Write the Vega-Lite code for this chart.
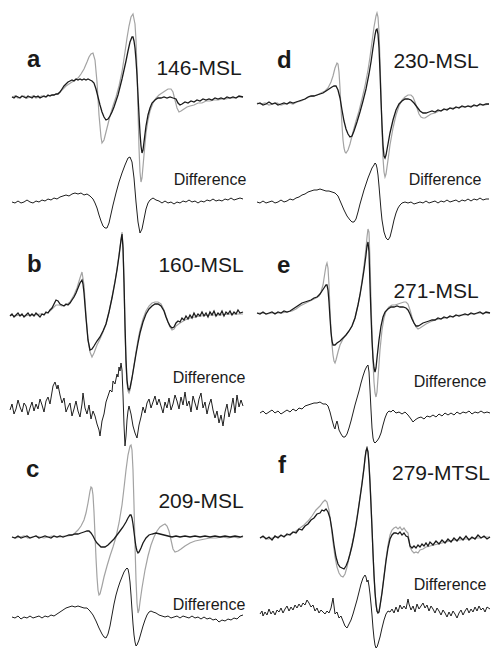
{
"$schema":"https://vega.github.io/schema/vega-lite/v6.json",
"padding":0,
"background":"white",
"spacing":1,
"config":{"view":{"stroke":null},"text":{"font":"Liberation Sans","color":"#1a1a1a","baseline":"alphabetic"}},
"datasets":{
"LT":[
{"k":"l","x":27,"y":-67,"s":"a"},{"k":"n","x":199,"y":-75,"s":"146-MSL"},{"k":"d","x":210,"y":-185,"s":"Difference"},
{"k":"l","x":27,"y":-272,"s":"b"},{"k":"n","x":201,"y":-272,"s":"160-MSL"},{"k":"d","x":209,"y":-383,"s":"Difference"},
{"k":"l","x":26,"y":-477,"s":"c"},{"k":"n","x":201,"y":-508,"s":"209-MSL"},{"k":"d","x":209,"y":-610,"s":"Difference"}
],
"RT":[
{"k":"l","x":27,"y":-68,"s":"d"},{"k":"n","x":186,"y":-68,"s":"230-MSL"},{"k":"d","x":195,"y":-185,"s":"Difference"},
{"k":"l","x":27,"y":-273,"s":"e"},{"k":"n","x":186,"y":-298,"s":"271-MSL"},{"k":"d","x":200,"y":-387,"s":"Difference"},
{"k":"l","x":28,"y":-473,"s":"f"},{"k":"n","x":191,"y":-480,"s":"279-MTSL"},{"k":"d","x":200,"y":-590,"s":"Difference"}
],
"L":[
{"t":"ag","x":12,"y":-97},{"t":"ag","x":15,"y":-96},{"t":"ag","x":18,"y":-98},{"t":"ag","x":21,"y":-97},{"t":"ag","x":24,"y":-96},{"t":"ag","x":27,"y":-98},{"t":"ag","x":30,"y":-97},{"t":"ag","x":33,"y":-96},{"t":"ag","x":36,"y":-98},{"t":"ag","x":39,"y":-97},{"t":"ag","x":42,"y":-96},{"t":"ag","x":45,"y":-97},{"t":"ag","x":48,"y":-96},{"t":"ag","x":51,"y":-95},{"t":"ag","x":54,"y":-95},{"t":"ag","x":57,"y":-94},{"t":"ag","x":60,"y":-92},{"t":"ag","x":63,"y":-89},{"t":"ag","x":66,"y":-86},{"t":"ag","x":69,"y":-84},{"t":"ag","x":72,"y":-82},{"t":"ag","x":75,"y":-80},{"t":"ag","x":78,"y":-78},{"t":"ag","x":81,"y":-74},{"t":"ag","x":84,"y":-69},{"t":"ag","x":87,"y":-62},{"t":"ag","x":89,"y":-57},{"t":"ag","x":91,"y":-54},{"t":"ag","x":93,"y":-53},{"t":"ag","x":95,"y":-60},{"t":"ag","x":97,"y":-82},{"t":"ag","x":99,"y":-115},{"t":"ag","x":101,"y":-137},{"t":"ag","x":102,"y":-143},{"t":"ag","x":104,"y":-140},{"t":"ag","x":106,"y":-132},{"t":"ag","x":108,"y":-124},{"t":"ag","x":110,"y":-116},{"t":"ag","x":113,"y":-106},{"t":"ag","x":116,"y":-97},{"t":"ag","x":119,"y":-86},{"t":"ag","x":122,"y":-72},{"t":"ag","x":125,"y":-52},{"t":"ag","x":127,"y":-38},{"t":"ag","x":129,"y":-26},{"t":"ag","x":131,"y":-17},{"t":"ag","x":133,"y":-14},{"t":"ag","x":135,"y":-24},{"t":"ag","x":136,"y":-40},{"t":"ag","x":137,"y":-70},{"t":"ag","x":138,"y":-110},{"t":"ag","x":139,"y":-148},{"t":"ag","x":140,"y":-172},{"t":"ag","x":141,"y":-182},{"t":"ag","x":142,"y":-178},{"t":"ag","x":144,"y":-155},{"t":"ag","x":146,"y":-133},{"t":"ag","x":148,"y":-120},{"t":"ag","x":150,"y":-111},{"t":"ag","x":153,"y":-103},{"t":"ag","x":156,"y":-98},{"t":"ag","x":159,"y":-95},{"t":"ag","x":162,"y":-93},{"t":"ag","x":165,"y":-91},{"t":"ag","x":168,"y":-89},{"t":"ag","x":171,"y":-89},{"t":"ag","x":173,"y":-92},{"t":"ag","x":175,"y":-100},{"t":"ag","x":177,"y":-108},{"t":"ag","x":179,"y":-112},{"t":"ag","x":181,"y":-111},{"t":"ag","x":184,"y":-109},{"t":"ag","x":187,"y":-107},{"t":"ag","x":190,"y":-106},{"t":"ag","x":194,"y":-105},{"t":"ag","x":198,"y":-103},{"t":"ag","x":202,"y":-103},{"t":"ag","x":206,"y":-101},{"t":"ag","x":210,"y":-101},{"t":"ag","x":214,"y":-100},{"t":"ag","x":218,"y":-100},{"t":"ag","x":222,"y":-99},{"t":"ag","x":226,"y":-99},{"t":"ag","x":230,"y":-98},{"t":"ag","x":234,"y":-98},{"t":"ag","x":238,"y":-97},{"t":"ag","x":243,"y":-97},
{"t":"ab","x":12,"y":-97},{"t":"ab","x":14,"y":-98},{"t":"ab","x":16,"y":-96},{"t":"ab","x":18,"y":-97},{"t":"ab","x":20,"y":-98},{"t":"ab","x":22,"y":-96},{"t":"ab","x":24,"y":-97},{"t":"ab","x":26,"y":-98},{"t":"ab","x":28,"y":-96},{"t":"ab","x":30,"y":-97},{"t":"ab","x":32,"y":-98},{"t":"ab","x":34,"y":-96},{"t":"ab","x":36,"y":-97},{"t":"ab","x":38,"y":-96},{"t":"ab","x":40,"y":-98},{"t":"ab","x":42,"y":-97},{"t":"ab","x":44,"y":-96},{"t":"ab","x":46,"y":-97},{"t":"ab","x":48,"y":-95},{"t":"ab","x":50,"y":-96},{"t":"ab","x":52,"y":-95},{"t":"ab","x":54,"y":-95},{"t":"ab","x":56,"y":-94},{"t":"ab","x":58,"y":-94},{"t":"ab","x":60,"y":-92},{"t":"ab","x":62,"y":-89},{"t":"ab","x":64,"y":-86},{"t":"ab","x":66,"y":-84},{"t":"ab","x":68,"y":-82},{"t":"ab","x":70,"y":-81},{"t":"ab","x":72,"y":-80},{"t":"ab","x":74,"y":-81},{"t":"ab","x":76,"y":-79},{"t":"ab","x":78,"y":-80},{"t":"ab","x":80,"y":-79},{"t":"ab","x":82,"y":-80},{"t":"ab","x":84,"y":-79},{"t":"ab","x":86,"y":-80},{"t":"ab","x":88,"y":-79},{"t":"ab","x":90,"y":-80},{"t":"ab","x":92,"y":-81},{"t":"ab","x":94,"y":-83},{"t":"ab","x":96,"y":-89},{"t":"ab","x":98,"y":-97},{"t":"ab","x":100,"y":-105},{"t":"ab","x":102,"y":-112},{"t":"ab","x":104,"y":-117},{"t":"ab","x":106,"y":-120},{"t":"ab","x":108,"y":-119},{"t":"ab","x":110,"y":-116},{"t":"ab","x":112,"y":-112},{"t":"ab","x":114,"y":-107},{"t":"ab","x":116,"y":-101},{"t":"ab","x":118,"y":-95},{"t":"ab","x":120,"y":-87},{"t":"ab","x":122,"y":-79},{"t":"ab","x":124,"y":-70},{"t":"ab","x":126,"y":-61},{"t":"ab","x":128,"y":-51},{"t":"ab","x":130,"y":-42},{"t":"ab","x":132,"y":-37},{"t":"ab","x":133,"y":-37},{"t":"ab","x":134,"y":-41},{"t":"ab","x":135,"y":-48},{"t":"ab","x":136,"y":-60},{"t":"ab","x":137,"y":-75},{"t":"ab","x":138,"y":-95},{"t":"ab","x":139,"y":-115},{"t":"ab","x":140,"y":-133},{"t":"ab","x":141,"y":-146},{"t":"ab","x":142,"y":-153},{"t":"ab","x":143,"y":-150},{"t":"ab","x":144,"y":-142},{"t":"ab","x":146,"y":-126},{"t":"ab","x":148,"y":-115},{"t":"ab","x":150,"y":-108},{"t":"ab","x":152,"y":-103},{"t":"ab","x":155,"y":-100},{"t":"ab","x":158,"y":-98},{"t":"ab","x":161,"y":-98},{"t":"ab","x":164,"y":-97},{"t":"ab","x":167,"y":-98},{"t":"ab","x":170,"y":-97},{"t":"ab","x":173,"y":-98},{"t":"ab","x":176,"y":-99},{"t":"ab","x":178,"y":-103},{"t":"ab","x":180,"y":-105},{"t":"ab","x":182,"y":-104},{"t":"ab","x":185,"y":-102},{"t":"ab","x":188,"y":-103},{"t":"ab","x":191,"y":-101},{"t":"ab","x":194,"y":-102},{"t":"ab","x":197,"y":-100},{"t":"ab","x":200,"y":-101},{"t":"ab","x":203,"y":-99},{"t":"ab","x":206,"y":-100},{"t":"ab","x":209,"y":-99},{"t":"ab","x":212,"y":-100},{"t":"ab","x":215,"y":-98},{"t":"ab","x":218,"y":-99},{"t":"ab","x":221,"y":-98},{"t":"ab","x":224,"y":-99},{"t":"ab","x":227,"y":-97},{"t":"ab","x":230,"y":-98},{"t":"ab","x":233,"y":-97},{"t":"ab","x":236,"y":-98},{"t":"ab","x":239,"y":-96},{"t":"ab","x":243,"y":-97},
{"t":"ad","x":12,"y":-202},{"t":"ad","x":15,"y":-203},{"t":"ad","x":18,"y":-201},{"t":"ad","x":21,"y":-203},{"t":"ad","x":24,"y":-202},{"t":"ad","x":27,"y":-200},{"t":"ad","x":30,"y":-202},{"t":"ad","x":33,"y":-203},{"t":"ad","x":36,"y":-201},{"t":"ad","x":39,"y":-202},{"t":"ad","x":42,"y":-200},{"t":"ad","x":45,"y":-201},{"t":"ad","x":48,"y":-199},{"t":"ad","x":51,"y":-200},{"t":"ad","x":54,"y":-198},{"t":"ad","x":57,"y":-199},{"t":"ad","x":60,"y":-197},{"t":"ad","x":63,"y":-196},{"t":"ad","x":66,"y":-195},{"t":"ad","x":69,"y":-196},{"t":"ad","x":72,"y":-194},{"t":"ad","x":75,"y":-193},{"t":"ad","x":78,"y":-194},{"t":"ad","x":81,"y":-193},{"t":"ad","x":84,"y":-195},{"t":"ad","x":87,"y":-194},{"t":"ad","x":90,"y":-196},{"t":"ad","x":93,"y":-199},{"t":"ad","x":95,"y":-203},{"t":"ad","x":97,"y":-208},{"t":"ad","x":99,"y":-215},{"t":"ad","x":101,"y":-221},{"t":"ad","x":103,"y":-226},{"t":"ad","x":105,"y":-228},{"t":"ad","x":107,"y":-228},{"t":"ad","x":109,"y":-223},{"t":"ad","x":111,"y":-214},{"t":"ad","x":113,"y":-205},{"t":"ad","x":116,"y":-193},{"t":"ad","x":119,"y":-182},{"t":"ad","x":122,"y":-173},{"t":"ad","x":125,"y":-165},{"t":"ad","x":128,"y":-158},{"t":"ad","x":130,"y":-157},{"t":"ad","x":132,"y":-162},{"t":"ad","x":134,"y":-178},{"t":"ad","x":136,"y":-202},{"t":"ad","x":138,"y":-222},{"t":"ad","x":140,"y":-233},{"t":"ad","x":142,"y":-229},{"t":"ad","x":144,"y":-219},{"t":"ad","x":146,"y":-209},{"t":"ad","x":148,"y":-203},{"t":"ad","x":150,"y":-200},{"t":"ad","x":153,"y":-198},{"t":"ad","x":156,"y":-200},{"t":"ad","x":159,"y":-201},{"t":"ad","x":162,"y":-203},{"t":"ad","x":165,"y":-201},{"t":"ad","x":168,"y":-203},{"t":"ad","x":171,"y":-202},{"t":"ad","x":174,"y":-204},{"t":"ad","x":177,"y":-202},{"t":"ad","x":180,"y":-203},{"t":"ad","x":183,"y":-201},{"t":"ad","x":186,"y":-202},{"t":"ad","x":189,"y":-200},{"t":"ad","x":192,"y":-202},{"t":"ad","x":195,"y":-201},{"t":"ad","x":198,"y":-203},{"t":"ad","x":201,"y":-201},{"t":"ad","x":204,"y":-202},{"t":"ad","x":207,"y":-200},{"t":"ad","x":210,"y":-201},{"t":"ad","x":213,"y":-199},{"t":"ad","x":216,"y":-201},{"t":"ad","x":219,"y":-200},{"t":"ad","x":222,"y":-201},{"t":"ad","x":225,"y":-199},{"t":"ad","x":228,"y":-200},{"t":"ad","x":231,"y":-198},{"t":"ad","x":234,"y":-200},{"t":"ad","x":237,"y":-199},{"t":"ad","x":240,"y":-198},{"t":"ad","x":243,"y":-199},
{"t":"bg","x":10,"y":-315},{"t":"bg","x":15,"y":-316},{"t":"bg","x":20,"y":-315},{"t":"bg","x":25,"y":-316},{"t":"bg","x":30,"y":-315},{"t":"bg","x":35,"y":-315},{"t":"bg","x":40,"y":-314},{"t":"bg","x":45,"y":-314},{"t":"bg","x":50,"y":-311},{"t":"bg","x":53,"y":-308},{"t":"bg","x":56,"y":-305},{"t":"bg","x":59,"y":-305},{"t":"bg","x":62,"y":-306},{"t":"bg","x":66,"y":-305},{"t":"bg","x":70,"y":-302},{"t":"bg","x":74,"y":-295},{"t":"bg","x":77,"y":-288},{"t":"bg","x":80,"y":-278},{"t":"bg","x":82,"y":-272},{"t":"bg","x":84,"y":-285},{"t":"bg","x":86,"y":-315},{"t":"bg","x":88,"y":-340},{"t":"bg","x":90,"y":-352},{"t":"bg","x":92,"y":-357},{"t":"bg","x":94,"y":-353},{"t":"bg","x":97,"y":-345},{"t":"bg","x":100,"y":-339},{"t":"bg","x":103,"y":-332},{"t":"bg","x":106,"y":-324},{"t":"bg","x":109,"y":-312},{"t":"bg","x":112,"y":-297},{"t":"bg","x":115,"y":-281},{"t":"bg","x":117,"y":-269},{"t":"bg","x":119,"y":-255},{"t":"bg","x":121,"y":-240},{"t":"bg","x":122,"y":-232},{"t":"bg","x":123,"y":-245},{"t":"bg","x":124,"y":-282},{"t":"bg","x":125,"y":-330},{"t":"bg","x":126,"y":-365},{"t":"bg","x":127,"y":-383},{"t":"bg","x":128,"y":-391},{"t":"bg","x":129,"y":-393},{"t":"bg","x":130,"y":-390},{"t":"bg","x":132,"y":-378},{"t":"bg","x":134,"y":-365},{"t":"bg","x":136,"y":-352},{"t":"bg","x":138,"y":-340},{"t":"bg","x":140,"y":-330},{"t":"bg","x":143,"y":-319},{"t":"bg","x":146,"y":-311},{"t":"bg","x":149,"y":-306},{"t":"bg","x":152,"y":-303},{"t":"bg","x":155,"y":-302},{"t":"bg","x":158,"y":-302},{"t":"bg","x":161,"y":-304},{"t":"bg","x":164,"y":-310},{"t":"bg","x":166,"y":-316},{"t":"bg","x":168,"y":-322},{"t":"bg","x":170,"y":-327},{"t":"bg","x":172,"y":-330},{"t":"bg","x":174,"y":-329},{"t":"bg","x":176,"y":-326},{"t":"bg","x":180,"y":-323},{"t":"bg","x":185,"y":-320},{"t":"bg","x":190,"y":-318},{"t":"bg","x":195,"y":-317},{"t":"bg","x":200,"y":-316},{"t":"bg","x":210,"y":-315},{"t":"bg","x":220,"y":-315},{"t":"bg","x":230,"y":-314},{"t":"bg","x":243,"y":-314},
{"t":"bb","x":10,"y":-316},{"t":"bb","x":12,"y":-314},{"t":"bb","x":14,"y":-317},{"t":"bb","x":16,"y":-315},{"t":"bb","x":18,"y":-313},{"t":"bb","x":20,"y":-316},{"t":"bb","x":22,"y":-314},{"t":"bb","x":24,"y":-317},{"t":"bb","x":26,"y":-315},{"t":"bb","x":28,"y":-313},{"t":"bb","x":30,"y":-316},{"t":"bb","x":32,"y":-314},{"t":"bb","x":34,"y":-316},{"t":"bb","x":36,"y":-313},{"t":"bb","x":38,"y":-315},{"t":"bb","x":40,"y":-317},{"t":"bb","x":42,"y":-314},{"t":"bb","x":44,"y":-315},{"t":"bb","x":46,"y":-312},{"t":"bb","x":48,"y":-313},{"t":"bb","x":50,"y":-310},{"t":"bb","x":52,"y":-308},{"t":"bb","x":54,"y":-304},{"t":"bb","x":56,"y":-300},{"t":"bb","x":58,"y":-301},{"t":"bb","x":60,"y":-304},{"t":"bb","x":62,"y":-305},{"t":"bb","x":64,"y":-306},{"t":"bb","x":66,"y":-304},{"t":"bb","x":68,"y":-305},{"t":"bb","x":70,"y":-303},{"t":"bb","x":72,"y":-300},{"t":"bb","x":74,"y":-297},{"t":"bb","x":76,"y":-293},{"t":"bb","x":78,"y":-288},{"t":"bb","x":80,"y":-283},{"t":"bb","x":82,"y":-280},{"t":"bb","x":83,"y":-284},{"t":"bb","x":84,"y":-293},{"t":"bb","x":86,"y":-318},{"t":"bb","x":88,"y":-340},{"t":"bb","x":90,"y":-350},{"t":"bb","x":92,"y":-349},{"t":"bb","x":94,"y":-346},{"t":"bb","x":97,"y":-341},{"t":"bb","x":100,"y":-337},{"t":"bb","x":103,"y":-331},{"t":"bb","x":106,"y":-324},{"t":"bb","x":109,"y":-312},{"t":"bb","x":112,"y":-298},{"t":"bb","x":115,"y":-282},{"t":"bb","x":117,"y":-270},{"t":"bb","x":119,"y":-256},{"t":"bb","x":120,"y":-248},{"t":"bb","x":121,"y":-240},{"t":"bb","x":122,"y":-234},{"t":"bb","x":123,"y":-248},{"t":"bb","x":124,"y":-282},{"t":"bb","x":125,"y":-325},{"t":"bb","x":126,"y":-360},{"t":"bb","x":127,"y":-380},{"t":"bb","x":128,"y":-388},{"t":"bb","x":129,"y":-390},{"t":"bb","x":130,"y":-388},{"t":"bb","x":132,"y":-378},{"t":"bb","x":134,"y":-366},{"t":"bb","x":136,"y":-354},{"t":"bb","x":138,"y":-343},{"t":"bb","x":140,"y":-333},{"t":"bb","x":143,"y":-322},{"t":"bb","x":146,"y":-314},{"t":"bb","x":149,"y":-309},{"t":"bb","x":152,"y":-306},{"t":"bb","x":155,"y":-304},{"t":"bb","x":158,"y":-304},{"t":"bb","x":161,"y":-306},{"t":"bb","x":164,"y":-311},{"t":"bb","x":166,"y":-317},{"t":"bb","x":168,"y":-322},{"t":"bb","x":170,"y":-326},{"t":"bb","x":172,"y":-328},{"t":"bb","x":174,"y":-327},{"t":"bb","x":176,"y":-323},{"t":"bb","x":178,"y":-321},{"t":"bb","x":180,"y":-322},{"t":"bb","x":182,"y":-318},{"t":"bb","x":184,"y":-320},{"t":"bb","x":186,"y":-316},{"t":"bb","x":188,"y":-319},{"t":"bb","x":190,"y":-315},{"t":"bb","x":192,"y":-318},{"t":"bb","x":194,"y":-313},{"t":"bb","x":196,"y":-317},{"t":"bb","x":198,"y":-314},{"t":"bb","x":200,"y":-316},{"t":"bb","x":202,"y":-312},{"t":"bb","x":204,"y":-316},{"t":"bb","x":206,"y":-313},{"t":"bb","x":208,"y":-317},{"t":"bb","x":210,"y":-312},{"t":"bb","x":212,"y":-315},{"t":"bb","x":214,"y":-311},{"t":"bb","x":216,"y":-316},{"t":"bb","x":218,"y":-313},{"t":"bb","x":220,"y":-315},{"t":"bb","x":222,"y":-311},{"t":"bb","x":224,"y":-316},{"t":"bb","x":226,"y":-312},{"t":"bb","x":228,"y":-314},{"t":"bb","x":230,"y":-311},{"t":"bb","x":232,"y":-315},{"t":"bb","x":234,"y":-312},{"t":"bb","x":236,"y":-314},{"t":"bb","x":238,"y":-310},{"t":"bb","x":240,"y":-313},{"t":"bb","x":243,"y":-312},
{"t":"bd","x":10,"y":-410},{"t":"bd","x":12,"y":-404},{"t":"bd","x":14,"y":-414},{"t":"bd","x":16,"y":-409},{"t":"bd","x":18,"y":-400},{"t":"bd","x":20,"y":-407},{"t":"bd","x":22,"y":-412},{"t":"bd","x":24,"y":-403},{"t":"bd","x":26,"y":-406},{"t":"bd","x":28,"y":-415},{"t":"bd","x":30,"y":-408},{"t":"bd","x":32,"y":-402},{"t":"bd","x":34,"y":-411},{"t":"bd","x":36,"y":-404},{"t":"bd","x":38,"y":-409},{"t":"bd","x":40,"y":-399},{"t":"bd","x":42,"y":-405},{"t":"bd","x":44,"y":-412},{"t":"bd","x":46,"y":-401},{"t":"bd","x":48,"y":-397},{"t":"bd","x":50,"y":-404},{"t":"bd","x":52,"y":-392},{"t":"bd","x":53,"y":-386},{"t":"bd","x":55,"y":-382},{"t":"bd","x":57,"y":-389},{"t":"bd","x":58,"y":-385},{"t":"bd","x":60,"y":-395},{"t":"bd","x":62,"y":-403},{"t":"bd","x":64,"y":-398},{"t":"bd","x":66,"y":-412},{"t":"bd","x":68,"y":-407},{"t":"bd","x":70,"y":-403},{"t":"bd","x":72,"y":-416},{"t":"bd","x":74,"y":-409},{"t":"bd","x":76,"y":-401},{"t":"bd","x":78,"y":-411},{"t":"bd","x":80,"y":-417},{"t":"bd","x":82,"y":-404},{"t":"bd","x":83,"y":-393},{"t":"bd","x":85,"y":-408},{"t":"bd","x":87,"y":-414},{"t":"bd","x":89,"y":-405},{"t":"bd","x":91,"y":-419},{"t":"bd","x":93,"y":-411},{"t":"bd","x":95,"y":-416},{"t":"bd","x":97,"y":-424},{"t":"bd","x":99,"y":-430},{"t":"bd","x":100,"y":-436},{"t":"bd","x":102,"y":-421},{"t":"bd","x":104,"y":-414},{"t":"bd","x":106,"y":-402},{"t":"bd","x":108,"y":-396},{"t":"bd","x":110,"y":-390},{"t":"bd","x":112,"y":-392},{"t":"bd","x":113,"y":-381},{"t":"bd","x":115,"y":-384},{"t":"bd","x":117,"y":-374},{"t":"bd","x":118,"y":-377},{"t":"bd","x":119,"y":-367},{"t":"bd","x":120,"y":-371},{"t":"bd","x":121,"y":-363},{"t":"bd","x":122,"y":-370},{"t":"bd","x":123,"y":-395},{"t":"bd","x":124,"y":-425},{"t":"bd","x":125,"y":-446},{"t":"bd","x":126,"y":-436},{"t":"bd","x":127,"y":-420},{"t":"bd","x":128,"y":-411},{"t":"bd","x":129,"y":-406},{"t":"bd","x":131,"y":-414},{"t":"bd","x":133,"y":-426},{"t":"bd","x":135,"y":-433},{"t":"bd","x":137,"y":-438},{"t":"bd","x":139,"y":-425},{"t":"bd","x":141,"y":-417},{"t":"bd","x":143,"y":-407},{"t":"bd","x":145,"y":-413},{"t":"bd","x":147,"y":-403},{"t":"bd","x":149,"y":-399},{"t":"bd","x":151,"y":-408},{"t":"bd","x":153,"y":-402},{"t":"bd","x":155,"y":-396},{"t":"bd","x":157,"y":-405},{"t":"bd","x":159,"y":-399},{"t":"bd","x":161,"y":-406},{"t":"bd","x":163,"y":-413},{"t":"bd","x":165,"y":-402},{"t":"bd","x":167,"y":-408},{"t":"bd","x":169,"y":-398},{"t":"bd","x":171,"y":-410},{"t":"bd","x":173,"y":-404},{"t":"bd","x":175,"y":-395},{"t":"bd","x":177,"y":-401},{"t":"bd","x":179,"y":-409},{"t":"bd","x":181,"y":-397},{"t":"bd","x":183,"y":-405},{"t":"bd","x":185,"y":-392},{"t":"bd","x":187,"y":-406},{"t":"bd","x":189,"y":-401},{"t":"bd","x":191,"y":-412},{"t":"bd","x":193,"y":-396},{"t":"bd","x":195,"y":-403},{"t":"bd","x":197,"y":-410},{"t":"bd","x":199,"y":-399},{"t":"bd","x":201,"y":-393},{"t":"bd","x":203,"y":-408},{"t":"bd","x":205,"y":-402},{"t":"bd","x":207,"y":-414},{"t":"bd","x":209,"y":-405},{"t":"bd","x":211,"y":-399},{"t":"bd","x":213,"y":-410},{"t":"bd","x":215,"y":-418},{"t":"bd","x":217,"y":-411},{"t":"bd","x":219,"y":-423},{"t":"bd","x":221,"y":-415},{"t":"bd","x":223,"y":-426},{"t":"bd","x":225,"y":-412},{"t":"bd","x":227,"y":-404},{"t":"bd","x":229,"y":-417},{"t":"bd","x":231,"y":-409},{"t":"bd","x":233,"y":-398},{"t":"bd","x":235,"y":-413},{"t":"bd","x":237,"y":-395},{"t":"bd","x":239,"y":-407},{"t":"bd","x":241,"y":-400},{"t":"bd","x":243,"y":-406},
{"t":"cg","x":12,"y":-537},{"t":"cg","x":16,"y":-538},{"t":"cg","x":20,"y":-537},{"t":"cg","x":24,"y":-536},{"t":"cg","x":28,"y":-538},{"t":"cg","x":32,"y":-537},{"t":"cg","x":36,"y":-536},{"t":"cg","x":40,"y":-537},{"t":"cg","x":44,"y":-538},{"t":"cg","x":48,"y":-537},{"t":"cg","x":52,"y":-536},{"t":"cg","x":56,"y":-537},{"t":"cg","x":60,"y":-537},{"t":"cg","x":64,"y":-536},{"t":"cg","x":68,"y":-536},{"t":"cg","x":72,"y":-535},{"t":"cg","x":75,"y":-533},{"t":"cg","x":78,"y":-530},{"t":"cg","x":81,"y":-526},{"t":"cg","x":84,"y":-520},{"t":"cg","x":86,"y":-513},{"t":"cg","x":88,"y":-503},{"t":"cg","x":90,"y":-491},{"t":"cg","x":91,"y":-487},{"t":"cg","x":92,"y":-488},{"t":"cg","x":93,"y":-495},{"t":"cg","x":94,"y":-512},{"t":"cg","x":95,"y":-535},{"t":"cg","x":96,"y":-558},{"t":"cg","x":97,"y":-577},{"t":"cg","x":98,"y":-590},{"t":"cg","x":99,"y":-595},{"t":"cg","x":100,"y":-594},{"t":"cg","x":102,"y":-586},{"t":"cg","x":104,"y":-577},{"t":"cg","x":107,"y":-566},{"t":"cg","x":110,"y":-556},{"t":"cg","x":113,"y":-547},{"t":"cg","x":116,"y":-537},{"t":"cg","x":119,"y":-523},{"t":"cg","x":122,"y":-505},{"t":"cg","x":124,"y":-488},{"t":"cg","x":126,"y":-470},{"t":"cg","x":128,"y":-455},{"t":"cg","x":130,"y":-446},{"t":"cg","x":131,"y":-445},{"t":"cg","x":132,"y":-450},{"t":"cg","x":133,"y":-470},{"t":"cg","x":134,"y":-505},{"t":"cg","x":135,"y":-545},{"t":"cg","x":136,"y":-580},{"t":"cg","x":137,"y":-603},{"t":"cg","x":138,"y":-613},{"t":"cg","x":139,"y":-610},{"t":"cg","x":140,"y":-602},{"t":"cg","x":142,"y":-588},{"t":"cg","x":145,"y":-570},{"t":"cg","x":148,"y":-556},{"t":"cg","x":151,"y":-545},{"t":"cg","x":154,"y":-537},{"t":"cg","x":157,"y":-531},{"t":"cg","x":160,"y":-527},{"t":"cg","x":163,"y":-525},{"t":"cg","x":165,"y":-524},{"t":"cg","x":167,"y":-526},{"t":"cg","x":169,"y":-531},{"t":"cg","x":171,"y":-540},{"t":"cg","x":173,"y":-549},{"t":"cg","x":175,"y":-552},{"t":"cg","x":178,"y":-551},{"t":"cg","x":181,"y":-549},{"t":"cg","x":185,"y":-546},{"t":"cg","x":190,"y":-543},{"t":"cg","x":195,"y":-541},{"t":"cg","x":200,"y":-540},{"t":"cg","x":205,"y":-539},{"t":"cg","x":210,"y":-538},{"t":"cg","x":216,"y":-538},{"t":"cg","x":222,"y":-537},{"t":"cg","x":228,"y":-538},{"t":"cg","x":234,"y":-537},{"t":"cg","x":238,"y":-538},{"t":"cg","x":243,"y":-537},
{"t":"cb","x":12,"y":-537},{"t":"cb","x":15,"y":-538},{"t":"cb","x":18,"y":-536},{"t":"cb","x":21,"y":-538},{"t":"cb","x":24,"y":-537},{"t":"cb","x":27,"y":-536},{"t":"cb","x":30,"y":-538},{"t":"cb","x":33,"y":-537},{"t":"cb","x":36,"y":-536},{"t":"cb","x":39,"y":-538},{"t":"cb","x":42,"y":-537},{"t":"cb","x":45,"y":-536},{"t":"cb","x":48,"y":-537},{"t":"cb","x":51,"y":-538},{"t":"cb","x":54,"y":-536},{"t":"cb","x":57,"y":-537},{"t":"cb","x":60,"y":-536},{"t":"cb","x":63,"y":-537},{"t":"cb","x":66,"y":-536},{"t":"cb","x":69,"y":-535},{"t":"cb","x":72,"y":-535},{"t":"cb","x":75,"y":-534},{"t":"cb","x":78,"y":-534},{"t":"cb","x":81,"y":-533},{"t":"cb","x":84,"y":-532},{"t":"cb","x":87,"y":-531},{"t":"cb","x":89,"y":-531},{"t":"cb","x":91,"y":-533},{"t":"cb","x":93,"y":-536},{"t":"cb","x":95,"y":-540},{"t":"cb","x":97,"y":-543},{"t":"cb","x":99,"y":-545},{"t":"cb","x":101,"y":-547},{"t":"cb","x":103,"y":-547},{"t":"cb","x":105,"y":-547},{"t":"cb","x":108,"y":-545},{"t":"cb","x":111,"y":-542},{"t":"cb","x":114,"y":-539},{"t":"cb","x":117,"y":-535},{"t":"cb","x":120,"y":-531},{"t":"cb","x":123,"y":-527},{"t":"cb","x":126,"y":-522},{"t":"cb","x":128,"y":-518},{"t":"cb","x":130,"y":-515},{"t":"cb","x":131,"y":-515},{"t":"cb","x":132,"y":-518},{"t":"cb","x":133,"y":-524},{"t":"cb","x":134,"y":-532},{"t":"cb","x":135,"y":-540},{"t":"cb","x":136,"y":-547},{"t":"cb","x":137,"y":-551},{"t":"cb","x":138,"y":-553},{"t":"cb","x":139,"y":-552},{"t":"cb","x":141,"y":-548},{"t":"cb","x":143,"y":-543},{"t":"cb","x":146,"y":-538},{"t":"cb","x":149,"y":-535},{"t":"cb","x":152,"y":-534},{"t":"cb","x":156,"y":-533},{"t":"cb","x":160,"y":-534},{"t":"cb","x":164,"y":-535},{"t":"cb","x":168,"y":-536},{"t":"cb","x":172,"y":-537},{"t":"cb","x":176,"y":-536},{"t":"cb","x":180,"y":-537},{"t":"cb","x":185,"y":-536},{"t":"cb","x":190,"y":-537},{"t":"cb","x":195,"y":-536},{"t":"cb","x":200,"y":-537},{"t":"cb","x":205,"y":-536},{"t":"cb","x":210,"y":-537},{"t":"cb","x":215,"y":-536},{"t":"cb","x":220,"y":-537},{"t":"cb","x":225,"y":-536},{"t":"cb","x":230,"y":-537},{"t":"cb","x":235,"y":-536},{"t":"cb","x":240,"y":-537},{"t":"cb","x":243,"y":-536},
{"t":"cd","x":12,"y":-617},{"t":"cd","x":15,"y":-618},{"t":"cd","x":18,"y":-616},{"t":"cd","x":21,"y":-619},{"t":"cd","x":24,"y":-617},{"t":"cd","x":27,"y":-618},{"t":"cd","x":30,"y":-616},{"t":"cd","x":33,"y":-618},{"t":"cd","x":36,"y":-617},{"t":"cd","x":39,"y":-616},{"t":"cd","x":42,"y":-618},{"t":"cd","x":45,"y":-616},{"t":"cd","x":48,"y":-617},{"t":"cd","x":51,"y":-615},{"t":"cd","x":54,"y":-616},{"t":"cd","x":57,"y":-614},{"t":"cd","x":60,"y":-612},{"t":"cd","x":63,"y":-610},{"t":"cd","x":66,"y":-608},{"t":"cd","x":69,"y":-607},{"t":"cd","x":72,"y":-606},{"t":"cd","x":75,"y":-607},{"t":"cd","x":78,"y":-606},{"t":"cd","x":81,"y":-607},{"t":"cd","x":84,"y":-608},{"t":"cd","x":87,"y":-608},{"t":"cd","x":90,"y":-611},{"t":"cd","x":93,"y":-615},{"t":"cd","x":96,"y":-621},{"t":"cd","x":99,"y":-628},{"t":"cd","x":102,"y":-634},{"t":"cd","x":104,"y":-637},{"t":"cd","x":106,"y":-638},{"t":"cd","x":108,"y":-634},{"t":"cd","x":110,"y":-626},{"t":"cd","x":112,"y":-615},{"t":"cd","x":114,"y":-604},{"t":"cd","x":116,"y":-595},{"t":"cd","x":118,"y":-588},{"t":"cd","x":120,"y":-582},{"t":"cd","x":122,"y":-577},{"t":"cd","x":124,"y":-572},{"t":"cd","x":126,"y":-569},{"t":"cd","x":127,"y":-568},{"t":"cd","x":128,"y":-569},{"t":"cd","x":129,"y":-574},{"t":"cd","x":130,"y":-582},{"t":"cd","x":131,"y":-595},{"t":"cd","x":132,"y":-610},{"t":"cd","x":133,"y":-624},{"t":"cd","x":134,"y":-635},{"t":"cd","x":135,"y":-642},{"t":"cd","x":136,"y":-646},{"t":"cd","x":137,"y":-645},{"t":"cd","x":139,"y":-640},{"t":"cd","x":141,"y":-633},{"t":"cd","x":143,"y":-626},{"t":"cd","x":145,"y":-620},{"t":"cd","x":147,"y":-615},{"t":"cd","x":149,"y":-612},{"t":"cd","x":151,"y":-611},{"t":"cd","x":153,"y":-612},{"t":"cd","x":156,"y":-613},{"t":"cd","x":159,"y":-615},{"t":"cd","x":162,"y":-616},{"t":"cd","x":165,"y":-617},{"t":"cd","x":168,"y":-616},{"t":"cd","x":171,"y":-618},{"t":"cd","x":174,"y":-617},{"t":"cd","x":177,"y":-616},{"t":"cd","x":180,"y":-618},{"t":"cd","x":183,"y":-616},{"t":"cd","x":186,"y":-617},{"t":"cd","x":189,"y":-618},{"t":"cd","x":192,"y":-616},{"t":"cd","x":195,"y":-618},{"t":"cd","x":198,"y":-617},{"t":"cd","x":201,"y":-619},{"t":"cd","x":204,"y":-617},{"t":"cd","x":207,"y":-619},{"t":"cd","x":210,"y":-618},{"t":"cd","x":213,"y":-620},{"t":"cd","x":216,"y":-619},{"t":"cd","x":219,"y":-622},{"t":"cd","x":222,"y":-620},{"t":"cd","x":225,"y":-621},{"t":"cd","x":228,"y":-619},{"t":"cd","x":231,"y":-620},{"t":"cd","x":234,"y":-618},{"t":"cd","x":237,"y":-619},{"t":"cd","x":240,"y":-616},{"t":"cd","x":243,"y":-615}
],
"R":[
{"t":"dg","x":7,"y":-103},{"t":"dg","x":11,"y":-104},{"t":"dg","x":15,"y":-103},{"t":"dg","x":19,"y":-105},{"t":"dg","x":23,"y":-104},{"t":"dg","x":27,"y":-103},{"t":"dg","x":31,"y":-105},{"t":"dg","x":35,"y":-104},{"t":"dg","x":39,"y":-103},{"t":"dg","x":43,"y":-104},{"t":"dg","x":47,"y":-102},{"t":"dg","x":51,"y":-101},{"t":"dg","x":55,"y":-99},{"t":"dg","x":59,"y":-97},{"t":"dg","x":63,"y":-96},{"t":"dg","x":67,"y":-95},{"t":"dg","x":71,"y":-93},{"t":"dg","x":75,"y":-91},{"t":"dg","x":78,"y":-88},{"t":"dg","x":81,"y":-82},{"t":"dg","x":83,"y":-76},{"t":"dg","x":85,"y":-68},{"t":"dg","x":87,"y":-63},{"t":"dg","x":88,"y":-64},{"t":"dg","x":89,"y":-72},{"t":"dg","x":90,"y":-88},{"t":"dg","x":91,"y":-108},{"t":"dg","x":92,"y":-125},{"t":"dg","x":93,"y":-140},{"t":"dg","x":94,"y":-148},{"t":"dg","x":95,"y":-152},{"t":"dg","x":96,"y":-153},{"t":"dg","x":98,"y":-150},{"t":"dg","x":100,"y":-144},{"t":"dg","x":103,"y":-132},{"t":"dg","x":106,"y":-121},{"t":"dg","x":109,"y":-111},{"t":"dg","x":112,"y":-99},{"t":"dg","x":115,"y":-86},{"t":"dg","x":118,"y":-70},{"t":"dg","x":120,"y":-57},{"t":"dg","x":122,"y":-42},{"t":"dg","x":124,"y":-27},{"t":"dg","x":126,"y":-16},{"t":"dg","x":127,"y":-13},{"t":"dg","x":128,"y":-17},{"t":"dg","x":129,"y":-32},{"t":"dg","x":130,"y":-60},{"t":"dg","x":131,"y":-95},{"t":"dg","x":132,"y":-130},{"t":"dg","x":133,"y":-158},{"t":"dg","x":134,"y":-172},{"t":"dg","x":135,"y":-177},{"t":"dg","x":136,"y":-174},{"t":"dg","x":138,"y":-160},{"t":"dg","x":140,"y":-145},{"t":"dg","x":143,"y":-128},{"t":"dg","x":146,"y":-115},{"t":"dg","x":149,"y":-106},{"t":"dg","x":152,"y":-100},{"t":"dg","x":155,"y":-97},{"t":"dg","x":158,"y":-95},{"t":"dg","x":161,"y":-95},{"t":"dg","x":163,"y":-97},{"t":"dg","x":165,"y":-102},{"t":"dg","x":167,"y":-108},{"t":"dg","x":169,"y":-114},{"t":"dg","x":171,"y":-117},{"t":"dg","x":173,"y":-118},{"t":"dg","x":175,"y":-118},{"t":"dg","x":178,"y":-116},{"t":"dg","x":181,"y":-114},{"t":"dg","x":185,"y":-113},{"t":"dg","x":189,"y":-111},{"t":"dg","x":193,"y":-110},{"t":"dg","x":197,"y":-109},{"t":"dg","x":201,"y":-108},{"t":"dg","x":205,"y":-108},{"t":"dg","x":210,"y":-107},{"t":"dg","x":215,"y":-107},{"t":"dg","x":220,"y":-106},{"t":"dg","x":225,"y":-106},{"t":"dg","x":230,"y":-105},{"t":"dg","x":235,"y":-105},{"t":"dg","x":239,"y":-104},
{"t":"db","x":7,"y":-104},{"t":"db","x":10,"y":-103},{"t":"db","x":13,"y":-105},{"t":"db","x":16,"y":-104},{"t":"db","x":19,"y":-102},{"t":"db","x":22,"y":-104},{"t":"db","x":25,"y":-103},{"t":"db","x":28,"y":-105},{"t":"db","x":31,"y":-104},{"t":"db","x":34,"y":-103},{"t":"db","x":37,"y":-104},{"t":"db","x":40,"y":-102},{"t":"db","x":43,"y":-103},{"t":"db","x":46,"y":-102},{"t":"db","x":49,"y":-101},{"t":"db","x":52,"y":-100},{"t":"db","x":55,"y":-99},{"t":"db","x":58,"y":-97},{"t":"db","x":61,"y":-96},{"t":"db","x":64,"y":-96},{"t":"db","x":67,"y":-95},{"t":"db","x":70,"y":-94},{"t":"db","x":73,"y":-93},{"t":"db","x":76,"y":-91},{"t":"db","x":79,"y":-89},{"t":"db","x":82,"y":-87},{"t":"db","x":84,"y":-86},{"t":"db","x":86,"y":-86},{"t":"db","x":88,"y":-90},{"t":"db","x":90,"y":-98},{"t":"db","x":92,"y":-110},{"t":"db","x":94,"y":-121},{"t":"db","x":96,"y":-129},{"t":"db","x":98,"y":-134},{"t":"db","x":100,"y":-137},{"t":"db","x":102,"y":-136},{"t":"db","x":104,"y":-131},{"t":"db","x":107,"y":-122},{"t":"db","x":110,"y":-112},{"t":"db","x":113,"y":-101},{"t":"db","x":116,"y":-89},{"t":"db","x":119,"y":-74},{"t":"db","x":121,"y":-62},{"t":"db","x":123,"y":-48},{"t":"db","x":125,"y":-35},{"t":"db","x":126,"y":-30},{"t":"db","x":127,"y":-29},{"t":"db","x":128,"y":-34},{"t":"db","x":129,"y":-48},{"t":"db","x":130,"y":-72},{"t":"db","x":131,"y":-100},{"t":"db","x":132,"y":-125},{"t":"db","x":133,"y":-145},{"t":"db","x":134,"y":-156},{"t":"db","x":135,"y":-158},{"t":"db","x":136,"y":-155},{"t":"db","x":138,"y":-144},{"t":"db","x":140,"y":-133},{"t":"db","x":143,"y":-120},{"t":"db","x":146,"y":-110},{"t":"db","x":149,"y":-104},{"t":"db","x":152,"y":-101},{"t":"db","x":155,"y":-99},{"t":"db","x":158,"y":-99},{"t":"db","x":161,"y":-100},{"t":"db","x":164,"y":-103},{"t":"db","x":167,"y":-107},{"t":"db","x":170,"y":-111},{"t":"db","x":173,"y":-113},{"t":"db","x":176,"y":-113},{"t":"db","x":179,"y":-112},{"t":"db","x":182,"y":-111},{"t":"db","x":185,"y":-112},{"t":"db","x":188,"y":-110},{"t":"db","x":191,"y":-111},{"t":"db","x":194,"y":-109},{"t":"db","x":197,"y":-110},{"t":"db","x":200,"y":-108},{"t":"db","x":203,"y":-109},{"t":"db","x":206,"y":-107},{"t":"db","x":209,"y":-108},{"t":"db","x":212,"y":-106},{"t":"db","x":215,"y":-107},{"t":"db","x":218,"y":-106},{"t":"db","x":221,"y":-107},{"t":"db","x":224,"y":-105},{"t":"db","x":227,"y":-106},{"t":"db","x":230,"y":-104},{"t":"db","x":233,"y":-105},{"t":"db","x":236,"y":-104},{"t":"db","x":239,"y":-104},
{"t":"dd","x":7,"y":-202},{"t":"dd","x":10,"y":-203},{"t":"dd","x":13,"y":-201},{"t":"dd","x":16,"y":-203},{"t":"dd","x":19,"y":-202},{"t":"dd","x":22,"y":-201},{"t":"dd","x":25,"y":-203},{"t":"dd","x":28,"y":-202},{"t":"dd","x":31,"y":-200},{"t":"dd","x":34,"y":-202},{"t":"dd","x":37,"y":-201},{"t":"dd","x":40,"y":-199},{"t":"dd","x":43,"y":-200},{"t":"dd","x":46,"y":-198},{"t":"dd","x":49,"y":-197},{"t":"dd","x":52,"y":-195},{"t":"dd","x":55,"y":-194},{"t":"dd","x":58,"y":-192},{"t":"dd","x":61,"y":-191},{"t":"dd","x":64,"y":-190},{"t":"dd","x":67,"y":-190},{"t":"dd","x":70,"y":-189},{"t":"dd","x":73,"y":-190},{"t":"dd","x":76,"y":-191},{"t":"dd","x":79,"y":-191},{"t":"dd","x":82,"y":-192},{"t":"dd","x":85,"y":-193},{"t":"dd","x":88,"y":-196},{"t":"dd","x":91,"y":-203},{"t":"dd","x":94,"y":-210},{"t":"dd","x":97,"y":-216},{"t":"dd","x":100,"y":-220},{"t":"dd","x":102,"y":-222},{"t":"dd","x":104,"y":-222},{"t":"dd","x":106,"y":-219},{"t":"dd","x":108,"y":-212},{"t":"dd","x":110,"y":-204},{"t":"dd","x":112,"y":-197},{"t":"dd","x":114,"y":-190},{"t":"dd","x":116,"y":-184},{"t":"dd","x":118,"y":-178},{"t":"dd","x":120,"y":-173},{"t":"dd","x":122,"y":-168},{"t":"dd","x":124,"y":-165},{"t":"dd","x":125,"y":-163},{"t":"dd","x":126,"y":-164},{"t":"dd","x":127,"y":-168},{"t":"dd","x":128,"y":-175},{"t":"dd","x":129,"y":-186},{"t":"dd","x":130,"y":-198},{"t":"dd","x":131,"y":-210},{"t":"dd","x":132,"y":-220},{"t":"dd","x":134,"y":-232},{"t":"dd","x":136,"y":-238},{"t":"dd","x":138,"y":-240},{"t":"dd","x":140,"y":-237},{"t":"dd","x":142,"y":-229},{"t":"dd","x":144,"y":-220},{"t":"dd","x":146,"y":-213},{"t":"dd","x":148,"y":-208},{"t":"dd","x":150,"y":-205},{"t":"dd","x":152,"y":-203},{"t":"dd","x":155,"y":-202},{"t":"dd","x":158,"y":-203},{"t":"dd","x":161,"y":-202},{"t":"dd","x":164,"y":-204},{"t":"dd","x":167,"y":-203},{"t":"dd","x":170,"y":-202},{"t":"dd","x":173,"y":-203},{"t":"dd","x":176,"y":-201},{"t":"dd","x":179,"y":-203},{"t":"dd","x":182,"y":-202},{"t":"dd","x":185,"y":-201},{"t":"dd","x":188,"y":-203},{"t":"dd","x":191,"y":-201},{"t":"dd","x":194,"y":-202},{"t":"dd","x":197,"y":-200},{"t":"dd","x":200,"y":-202},{"t":"dd","x":203,"y":-201},{"t":"dd","x":206,"y":-200},{"t":"dd","x":209,"y":-202},{"t":"dd","x":212,"y":-200},{"t":"dd","x":215,"y":-201},{"t":"dd","x":218,"y":-199},{"t":"dd","x":221,"y":-201},{"t":"dd","x":224,"y":-199},{"t":"dd","x":227,"y":-200},{"t":"dd","x":230,"y":-198},{"t":"dd","x":233,"y":-200},{"t":"dd","x":236,"y":-199},{"t":"dd","x":239,"y":-199},
{"t":"eg","x":7,"y":-313},{"t":"eg","x":12,"y":-313},{"t":"eg","x":17,"y":-314},{"t":"eg","x":22,"y":-313},{"t":"eg","x":27,"y":-313},{"t":"eg","x":32,"y":-313},{"t":"eg","x":37,"y":-312},{"t":"eg","x":42,"y":-311},{"t":"eg","x":46,"y":-309},{"t":"eg","x":50,"y":-306},{"t":"eg","x":54,"y":-304},{"t":"eg","x":58,"y":-302},{"t":"eg","x":62,"y":-300},{"t":"eg","x":66,"y":-298},{"t":"eg","x":69,"y":-296},{"t":"eg","x":71,"y":-292},{"t":"eg","x":73,"y":-285},{"t":"eg","x":75,"y":-272},{"t":"eg","x":76,"y":-266},{"t":"eg","x":77,"y":-263},{"t":"eg","x":78,"y":-268},{"t":"eg","x":79,"y":-285},{"t":"eg","x":80,"y":-310},{"t":"eg","x":81,"y":-330},{"t":"eg","x":82,"y":-345},{"t":"eg","x":83,"y":-355},{"t":"eg","x":84,"y":-361},{"t":"eg","x":85,"y":-363},{"t":"eg","x":86,"y":-360},{"t":"eg","x":88,"y":-352},{"t":"eg","x":90,"y":-345},{"t":"eg","x":93,"y":-339},{"t":"eg","x":96,"y":-335},{"t":"eg","x":99,"y":-331},{"t":"eg","x":102,"y":-326},{"t":"eg","x":105,"y":-318},{"t":"eg","x":108,"y":-305},{"t":"eg","x":110,"y":-294},{"t":"eg","x":112,"y":-281},{"t":"eg","x":114,"y":-266},{"t":"eg","x":116,"y":-248},{"t":"eg","x":117,"y":-237},{"t":"eg","x":118,"y":-229},{"t":"eg","x":119,"y":-232},{"t":"eg","x":120,"y":-260},{"t":"eg","x":121,"y":-300},{"t":"eg","x":122,"y":-335},{"t":"eg","x":123,"y":-362},{"t":"eg","x":124,"y":-382},{"t":"eg","x":125,"y":-393},{"t":"eg","x":126,"y":-397},{"t":"eg","x":127,"y":-392},{"t":"eg","x":128,"y":-378},{"t":"eg","x":130,"y":-350},{"t":"eg","x":132,"y":-330},{"t":"eg","x":134,"y":-318},{"t":"eg","x":136,"y":-311},{"t":"eg","x":139,"y":-307},{"t":"eg","x":142,"y":-305},{"t":"eg","x":145,"y":-305},{"t":"eg","x":148,"y":-304},{"t":"eg","x":151,"y":-303},{"t":"eg","x":154,"y":-302},{"t":"eg","x":156,"y":-302},{"t":"eg","x":158,"y":-304},{"t":"eg","x":160,"y":-310},{"t":"eg","x":162,"y":-317},{"t":"eg","x":164,"y":-323},{"t":"eg","x":166,"y":-327},{"t":"eg","x":168,"y":-329},{"t":"eg","x":170,"y":-328},{"t":"eg","x":173,"y":-326},{"t":"eg","x":176,"y":-324},{"t":"eg","x":180,"y":-322},{"t":"eg","x":185,"y":-320},{"t":"eg","x":190,"y":-319},{"t":"eg","x":195,"y":-318},{"t":"eg","x":200,"y":-317},{"t":"eg","x":205,"y":-316},{"t":"eg","x":210,"y":-315},{"t":"eg","x":215,"y":-315},{"t":"eg","x":220,"y":-314},{"t":"eg","x":225,"y":-314},{"t":"eg","x":230,"y":-313},{"t":"eg","x":235,"y":-313},{"t":"eg","x":240,"y":-313},
{"t":"eb","x":7,"y":-313},{"t":"eb","x":10,"y":-314},{"t":"eb","x":13,"y":-312},{"t":"eb","x":16,"y":-314},{"t":"eb","x":19,"y":-313},{"t":"eb","x":22,"y":-312},{"t":"eb","x":25,"y":-314},{"t":"eb","x":28,"y":-312},{"t":"eb","x":31,"y":-313},{"t":"eb","x":34,"y":-311},{"t":"eb","x":37,"y":-312},{"t":"eb","x":40,"y":-311},{"t":"eb","x":43,"y":-309},{"t":"eb","x":46,"y":-307},{"t":"eb","x":49,"y":-305},{"t":"eb","x":52,"y":-303},{"t":"eb","x":55,"y":-302},{"t":"eb","x":58,"y":-301},{"t":"eb","x":61,"y":-300},{"t":"eb","x":64,"y":-298},{"t":"eb","x":67,"y":-297},{"t":"eb","x":70,"y":-294},{"t":"eb","x":72,"y":-291},{"t":"eb","x":74,"y":-288},{"t":"eb","x":76,"y":-285},{"t":"eb","x":77,"y":-285},{"t":"eb","x":78,"y":-290},{"t":"eb","x":79,"y":-302},{"t":"eb","x":80,"y":-318},{"t":"eb","x":81,"y":-332},{"t":"eb","x":82,"y":-341},{"t":"eb","x":83,"y":-345},{"t":"eb","x":85,"y":-345},{"t":"eb","x":87,"y":-343},{"t":"eb","x":90,"y":-341},{"t":"eb","x":93,"y":-338},{"t":"eb","x":96,"y":-335},{"t":"eb","x":99,"y":-331},{"t":"eb","x":102,"y":-326},{"t":"eb","x":105,"y":-318},{"t":"eb","x":108,"y":-305},{"t":"eb","x":110,"y":-295},{"t":"eb","x":112,"y":-283},{"t":"eb","x":114,"y":-270},{"t":"eb","x":116,"y":-255},{"t":"eb","x":117,"y":-246},{"t":"eb","x":118,"y":-242},{"t":"eb","x":119,"y":-252},{"t":"eb","x":120,"y":-285},{"t":"eb","x":121,"y":-315},{"t":"eb","x":122,"y":-340},{"t":"eb","x":123,"y":-358},{"t":"eb","x":124,"y":-368},{"t":"eb","x":125,"y":-372},{"t":"eb","x":126,"y":-368},{"t":"eb","x":127,"y":-358},{"t":"eb","x":129,"y":-340},{"t":"eb","x":131,"y":-326},{"t":"eb","x":133,"y":-317},{"t":"eb","x":135,"y":-312},{"t":"eb","x":138,"y":-309},{"t":"eb","x":141,"y":-307},{"t":"eb","x":144,"y":-307},{"t":"eb","x":147,"y":-306},{"t":"eb","x":150,"y":-307},{"t":"eb","x":153,"y":-307},{"t":"eb","x":156,"y":-308},{"t":"eb","x":158,"y":-310},{"t":"eb","x":160,"y":-314},{"t":"eb","x":162,"y":-319},{"t":"eb","x":164,"y":-323},{"t":"eb","x":166,"y":-326},{"t":"eb","x":168,"y":-326},{"t":"eb","x":170,"y":-325},{"t":"eb","x":173,"y":-323},{"t":"eb","x":176,"y":-322},{"t":"eb","x":179,"y":-321},{"t":"eb","x":182,"y":-320},{"t":"eb","x":185,"y":-320},{"t":"eb","x":188,"y":-318},{"t":"eb","x":191,"y":-319},{"t":"eb","x":194,"y":-317},{"t":"eb","x":197,"y":-318},{"t":"eb","x":200,"y":-316},{"t":"eb","x":203,"y":-317},{"t":"eb","x":206,"y":-315},{"t":"eb","x":209,"y":-316},{"t":"eb","x":212,"y":-315},{"t":"eb","x":215,"y":-314},{"t":"eb","x":218,"y":-315},{"t":"eb","x":221,"y":-313},{"t":"eb","x":224,"y":-314},{"t":"eb","x":227,"y":-313},{"t":"eb","x":230,"y":-312},{"t":"eb","x":233,"y":-314},{"t":"eb","x":236,"y":-312},{"t":"eb","x":240,"y":-313},
{"t":"ed","x":10,"y":-413},{"t":"ed","x":13,"y":-411},{"t":"ed","x":16,"y":-414},{"t":"ed","x":19,"y":-412},{"t":"ed","x":22,"y":-410},{"t":"ed","x":25,"y":-413},{"t":"ed","x":28,"y":-411},{"t":"ed","x":31,"y":-414},{"t":"ed","x":34,"y":-412},{"t":"ed","x":37,"y":-410},{"t":"ed","x":40,"y":-412},{"t":"ed","x":43,"y":-409},{"t":"ed","x":46,"y":-411},{"t":"ed","x":49,"y":-408},{"t":"ed","x":52,"y":-409},{"t":"ed","x":55,"y":-406},{"t":"ed","x":58,"y":-405},{"t":"ed","x":61,"y":-404},{"t":"ed","x":64,"y":-403},{"t":"ed","x":67,"y":-403},{"t":"ed","x":70,"y":-402},{"t":"ed","x":73,"y":-404},{"t":"ed","x":76,"y":-404},{"t":"ed","x":78,"y":-406},{"t":"ed","x":80,"y":-412},{"t":"ed","x":82,"y":-420},{"t":"ed","x":84,"y":-427},{"t":"ed","x":85,"y":-429},{"t":"ed","x":86,"y":-424},{"t":"ed","x":87,"y":-421},{"t":"ed","x":88,"y":-425},{"t":"ed","x":89,"y":-430},{"t":"ed","x":91,"y":-434},{"t":"ed","x":93,"y":-437},{"t":"ed","x":95,"y":-437},{"t":"ed","x":97,"y":-434},{"t":"ed","x":99,"y":-428},{"t":"ed","x":101,"y":-421},{"t":"ed","x":103,"y":-413},{"t":"ed","x":105,"y":-405},{"t":"ed","x":107,"y":-398},{"t":"ed","x":109,"y":-391},{"t":"ed","x":111,"y":-383},{"t":"ed","x":113,"y":-376},{"t":"ed","x":115,"y":-370},{"t":"ed","x":117,"y":-366},{"t":"ed","x":118,"y":-365},{"t":"ed","x":119,"y":-372},{"t":"ed","x":120,"y":-390},{"t":"ed","x":121,"y":-410},{"t":"ed","x":122,"y":-428},{"t":"ed","x":123,"y":-438},{"t":"ed","x":124,"y":-442},{"t":"ed","x":125,"y":-443},{"t":"ed","x":127,"y":-441},{"t":"ed","x":129,"y":-438},{"t":"ed","x":131,"y":-433},{"t":"ed","x":133,"y":-425},{"t":"ed","x":135,"y":-418},{"t":"ed","x":137,"y":-413},{"t":"ed","x":139,"y":-411},{"t":"ed","x":141,"y":-412},{"t":"ed","x":143,"y":-410},{"t":"ed","x":146,"y":-413},{"t":"ed","x":149,"y":-412},{"t":"ed","x":152,"y":-414},{"t":"ed","x":155,"y":-412},{"t":"ed","x":158,"y":-415},{"t":"ed","x":161,"y":-419},{"t":"ed","x":163,"y":-422},{"t":"ed","x":165,"y":-420},{"t":"ed","x":168,"y":-418},{"t":"ed","x":171,"y":-417},{"t":"ed","x":174,"y":-419},{"t":"ed","x":177,"y":-416},{"t":"ed","x":180,"y":-417},{"t":"ed","x":183,"y":-415},{"t":"ed","x":186,"y":-417},{"t":"ed","x":189,"y":-414},{"t":"ed","x":192,"y":-416},{"t":"ed","x":195,"y":-413},{"t":"ed","x":198,"y":-415},{"t":"ed","x":201,"y":-413},{"t":"ed","x":204,"y":-415},{"t":"ed","x":207,"y":-412},{"t":"ed","x":210,"y":-414},{"t":"ed","x":213,"y":-412},{"t":"ed","x":216,"y":-413},{"t":"ed","x":219,"y":-411},{"t":"ed","x":222,"y":-414},{"t":"ed","x":225,"y":-412},{"t":"ed","x":228,"y":-413},{"t":"ed","x":231,"y":-411},{"t":"ed","x":234,"y":-413},{"t":"ed","x":237,"y":-412},{"t":"ed","x":240,"y":-413},
{"t":"fg","x":10,"y":-538},{"t":"fg","x":14,"y":-537},{"t":"fg","x":18,"y":-539},{"t":"fg","x":22,"y":-538},{"t":"fg","x":26,"y":-537},{"t":"fg","x":30,"y":-536},{"t":"fg","x":34,"y":-536},{"t":"fg","x":38,"y":-535},{"t":"fg","x":42,"y":-533},{"t":"fg","x":46,"y":-531},{"t":"fg","x":50,"y":-528},{"t":"fg","x":54,"y":-525},{"t":"fg","x":58,"y":-521},{"t":"fg","x":62,"y":-516},{"t":"fg","x":66,"y":-510},{"t":"fg","x":70,"y":-506},{"t":"fg","x":73,"y":-502},{"t":"fg","x":75,"y":-500},{"t":"fg","x":77,"y":-502},{"t":"fg","x":79,"y":-510},{"t":"fg","x":81,"y":-525},{"t":"fg","x":83,"y":-542},{"t":"fg","x":85,"y":-557},{"t":"fg","x":87,"y":-567},{"t":"fg","x":89,"y":-573},{"t":"fg","x":91,"y":-576},{"t":"fg","x":93,"y":-577},{"t":"fg","x":95,"y":-574},{"t":"fg","x":97,"y":-567},{"t":"fg","x":99,"y":-558},{"t":"fg","x":101,"y":-549},{"t":"fg","x":103,"y":-540},{"t":"fg","x":105,"y":-529},{"t":"fg","x":107,"y":-517},{"t":"fg","x":109,"y":-504},{"t":"fg","x":111,"y":-490},{"t":"fg","x":113,"y":-475},{"t":"fg","x":115,"y":-460},{"t":"fg","x":116,"y":-452},{"t":"fg","x":117,"y":-448},{"t":"fg","x":118,"y":-451},{"t":"fg","x":119,"y":-463},{"t":"fg","x":120,"y":-480},{"t":"fg","x":121,"y":-503},{"t":"fg","x":122,"y":-528},{"t":"fg","x":123,"y":-553},{"t":"fg","x":124,"y":-575},{"t":"fg","x":125,"y":-592},{"t":"fg","x":126,"y":-604},{"t":"fg","x":127,"y":-611},{"t":"fg","x":128,"y":-613},{"t":"fg","x":129,"y":-612},{"t":"fg","x":130,"y":-606},{"t":"fg","x":132,"y":-592},{"t":"fg","x":134,"y":-576},{"t":"fg","x":136,"y":-559},{"t":"fg","x":138,"y":-545},{"t":"fg","x":140,"y":-535},{"t":"fg","x":142,"y":-530},{"t":"fg","x":144,"y":-528},{"t":"fg","x":146,"y":-527},{"t":"fg","x":148,"y":-529},{"t":"fg","x":150,"y":-527},{"t":"fg","x":152,"y":-530},{"t":"fg","x":154,"y":-528},{"t":"fg","x":156,"y":-531},{"t":"fg","x":158,"y":-533},{"t":"fg","x":159,"y":-540},{"t":"fg","x":160,"y":-547},{"t":"fg","x":162,"y":-551},{"t":"fg","x":164,"y":-553},{"t":"fg","x":166,"y":-552},{"t":"fg","x":168,"y":-553},{"t":"fg","x":170,"y":-550},{"t":"fg","x":173,"y":-549},{"t":"fg","x":176,"y":-547},{"t":"fg","x":180,"y":-546},{"t":"fg","x":184,"y":-545},{"t":"fg","x":188,"y":-544},{"t":"fg","x":192,"y":-543},{"t":"fg","x":196,"y":-542},{"t":"fg","x":200,"y":-541},{"t":"fg","x":205,"y":-540},{"t":"fg","x":210,"y":-540},{"t":"fg","x":215,"y":-539},{"t":"fg","x":220,"y":-539},{"t":"fg","x":225,"y":-538},{"t":"fg","x":230,"y":-538},{"t":"fg","x":235,"y":-537},{"t":"fg","x":240,"y":-537},
{"t":"fb","x":10,"y":-538},{"t":"fb","x":13,"y":-536},{"t":"fb","x":16,"y":-539},{"t":"fb","x":19,"y":-537},{"t":"fb","x":22,"y":-540},{"t":"fb","x":25,"y":-536},{"t":"fb","x":28,"y":-538},{"t":"fb","x":31,"y":-535},{"t":"fb","x":34,"y":-537},{"t":"fb","x":37,"y":-534},{"t":"fb","x":40,"y":-535},{"t":"fb","x":43,"y":-532},{"t":"fb","x":46,"y":-533},{"t":"fb","x":49,"y":-529},{"t":"fb","x":52,"y":-530},{"t":"fb","x":55,"y":-526},{"t":"fb","x":58,"y":-524},{"t":"fb","x":61,"y":-520},{"t":"fb","x":64,"y":-518},{"t":"fb","x":67,"y":-514},{"t":"fb","x":70,"y":-513},{"t":"fb","x":72,"y":-510},{"t":"fb","x":74,"y":-511},{"t":"fb","x":76,"y":-509},{"t":"fb","x":78,"y":-512},{"t":"fb","x":80,"y":-518},{"t":"fb","x":82,"y":-530},{"t":"fb","x":84,"y":-545},{"t":"fb","x":86,"y":-557},{"t":"fb","x":88,"y":-564},{"t":"fb","x":90,"y":-567},{"t":"fb","x":92,"y":-568},{"t":"fb","x":94,"y":-569},{"t":"fb","x":96,"y":-566},{"t":"fb","x":98,"y":-561},{"t":"fb","x":100,"y":-554},{"t":"fb","x":102,"y":-546},{"t":"fb","x":104,"y":-536},{"t":"fb","x":106,"y":-525},{"t":"fb","x":108,"y":-512},{"t":"fb","x":110,"y":-498},{"t":"fb","x":112,"y":-484},{"t":"fb","x":114,"y":-468},{"t":"fb","x":115,"y":-458},{"t":"fb","x":116,"y":-451},{"t":"fb","x":117,"y":-448},{"t":"fb","x":118,"y":-452},{"t":"fb","x":119,"y":-465},{"t":"fb","x":120,"y":-483},{"t":"fb","x":121,"y":-505},{"t":"fb","x":122,"y":-528},{"t":"fb","x":123,"y":-553},{"t":"fb","x":124,"y":-575},{"t":"fb","x":125,"y":-592},{"t":"fb","x":126,"y":-604},{"t":"fb","x":127,"y":-611},{"t":"fb","x":128,"y":-613},{"t":"fb","x":129,"y":-612},{"t":"fb","x":130,"y":-606},{"t":"fb","x":132,"y":-593},{"t":"fb","x":134,"y":-577},{"t":"fb","x":136,"y":-561},{"t":"fb","x":138,"y":-548},{"t":"fb","x":140,"y":-539},{"t":"fb","x":142,"y":-535},{"t":"fb","x":144,"y":-533},{"t":"fb","x":146,"y":-533},{"t":"fb","x":148,"y":-534},{"t":"fb","x":150,"y":-532},{"t":"fb","x":152,"y":-535},{"t":"fb","x":154,"y":-533},{"t":"fb","x":156,"y":-536},{"t":"fb","x":158,"y":-537},{"t":"fb","x":159,"y":-541},{"t":"fb","x":160,"y":-546},{"t":"fb","x":162,"y":-548},{"t":"fb","x":164,"y":-546},{"t":"fb","x":166,"y":-548},{"t":"fb","x":168,"y":-545},{"t":"fb","x":170,"y":-547},{"t":"fb","x":172,"y":-544},{"t":"fb","x":174,"y":-546},{"t":"fb","x":176,"y":-543},{"t":"fb","x":178,"y":-546},{"t":"fb","x":180,"y":-542},{"t":"fb","x":183,"y":-545},{"t":"fb","x":186,"y":-541},{"t":"fb","x":189,"y":-544},{"t":"fb","x":192,"y":-540},{"t":"fb","x":195,"y":-543},{"t":"fb","x":198,"y":-539},{"t":"fb","x":201,"y":-542},{"t":"fb","x":204,"y":-538},{"t":"fb","x":207,"y":-541},{"t":"fb","x":210,"y":-537},{"t":"fb","x":213,"y":-540},{"t":"fb","x":216,"y":-536},{"t":"fb","x":219,"y":-540},{"t":"fb","x":222,"y":-537},{"t":"fb","x":225,"y":-539},{"t":"fb","x":228,"y":-535},{"t":"fb","x":231,"y":-538},{"t":"fb","x":234,"y":-536},{"t":"fb","x":237,"y":-539},{"t":"fb","x":240,"y":-537},
{"t":"fd","x":10,"y":-614},{"t":"fd","x":12,"y":-611},{"t":"fd","x":13,"y":-616},{"t":"fd","x":15,"y":-612},{"t":"fd","x":17,"y":-615},{"t":"fd","x":19,"y":-609},{"t":"fd","x":21,"y":-614},{"t":"fd","x":23,"y":-611},{"t":"fd","x":25,"y":-615},{"t":"fd","x":27,"y":-610},{"t":"fd","x":29,"y":-612},{"t":"fd","x":31,"y":-608},{"t":"fd","x":33,"y":-613},{"t":"fd","x":35,"y":-609},{"t":"fd","x":37,"y":-606},{"t":"fd","x":39,"y":-611},{"t":"fd","x":41,"y":-607},{"t":"fd","x":43,"y":-610},{"t":"fd","x":45,"y":-605},{"t":"fd","x":47,"y":-608},{"t":"fd","x":49,"y":-604},{"t":"fd","x":51,"y":-607},{"t":"fd","x":53,"y":-603},{"t":"fd","x":55,"y":-605},{"t":"fd","x":57,"y":-600},{"t":"fd","x":59,"y":-603},{"t":"fd","x":61,"y":-607},{"t":"fd","x":63,"y":-605},{"t":"fd","x":65,"y":-611},{"t":"fd","x":67,"y":-608},{"t":"fd","x":69,"y":-613},{"t":"fd","x":71,"y":-610},{"t":"fd","x":73,"y":-612},{"t":"fd","x":75,"y":-614},{"t":"fd","x":77,"y":-611},{"t":"fd","x":79,"y":-613},{"t":"fd","x":81,"y":-608},{"t":"fd","x":82,"y":-603},{"t":"fd","x":83,"y":-598},{"t":"fd","x":84,"y":-606},{"t":"fd","x":85,"y":-614},{"t":"fd","x":87,"y":-612},{"t":"fd","x":89,"y":-618},{"t":"fd","x":91,"y":-616},{"t":"fd","x":93,"y":-621},{"t":"fd","x":95,"y":-626},{"t":"fd","x":97,"y":-628},{"t":"fd","x":99,"y":-624},{"t":"fd","x":101,"y":-620},{"t":"fd","x":103,"y":-614},{"t":"fd","x":105,"y":-607},{"t":"fd","x":107,"y":-600},{"t":"fd","x":109,"y":-592},{"t":"fd","x":111,"y":-584},{"t":"fd","x":113,"y":-578},{"t":"fd","x":115,"y":-575},{"t":"fd","x":116,"y":-577},{"t":"fd","x":117,"y":-582},{"t":"fd","x":118,"y":-580},{"t":"fd","x":119,"y":-586},{"t":"fd","x":120,"y":-594},{"t":"fd","x":121,"y":-604},{"t":"fd","x":122,"y":-615},{"t":"fd","x":123,"y":-628},{"t":"fd","x":124,"y":-638},{"t":"fd","x":125,"y":-645},{"t":"fd","x":126,"y":-648},{"t":"fd","x":127,"y":-647},{"t":"fd","x":128,"y":-644},{"t":"fd","x":130,"y":-637},{"t":"fd","x":132,"y":-628},{"t":"fd","x":134,"y":-620},{"t":"fd","x":136,"y":-614},{"t":"fd","x":138,"y":-611},{"t":"fd","x":140,"y":-612},{"t":"fd","x":142,"y":-609},{"t":"fd","x":144,"y":-613},{"t":"fd","x":146,"y":-607},{"t":"fd","x":148,"y":-612},{"t":"fd","x":150,"y":-605},{"t":"fd","x":152,"y":-609},{"t":"fd","x":154,"y":-606},{"t":"fd","x":156,"y":-609},{"t":"fd","x":158,"y":-599},{"t":"fd","x":159,"y":-604},{"t":"fd","x":161,"y":-610},{"t":"fd","x":163,"y":-606},{"t":"fd","x":165,"y":-612},{"t":"fd","x":167,"y":-604},{"t":"fd","x":169,"y":-609},{"t":"fd","x":171,"y":-606},{"t":"fd","x":173,"y":-603},{"t":"fd","x":175,"y":-608},{"t":"fd","x":177,"y":-605},{"t":"fd","x":179,"y":-611},{"t":"fd","x":181,"y":-606},{"t":"fd","x":183,"y":-609},{"t":"fd","x":185,"y":-613},{"t":"fd","x":187,"y":-608},{"t":"fd","x":189,"y":-611},{"t":"fd","x":191,"y":-615},{"t":"fd","x":193,"y":-610},{"t":"fd","x":195,"y":-613},{"t":"fd","x":197,"y":-617},{"t":"fd","x":199,"y":-612},{"t":"fd","x":201,"y":-616},{"t":"fd","x":203,"y":-611},{"t":"fd","x":205,"y":-614},{"t":"fd","x":207,"y":-618},{"t":"fd","x":209,"y":-613},{"t":"fd","x":211,"y":-610},{"t":"fd","x":213,"y":-615},{"t":"fd","x":215,"y":-611},{"t":"fd","x":217,"y":-608},{"t":"fd","x":219,"y":-613},{"t":"fd","x":221,"y":-609},{"t":"fd","x":223,"y":-612},{"t":"fd","x":225,"y":-607},{"t":"fd","x":227,"y":-611},{"t":"fd","x":229,"y":-606},{"t":"fd","x":231,"y":-610},{"t":"fd","x":233,"y":-608},{"t":"fd","x":235,"y":-612},{"t":"fd","x":237,"y":-607},{"t":"fd","x":240,"y":-609}
]
},
"hconcat":[
{"width":249,"height":650,
"layer":[
{"data":{"name":"L"},"transform":[{"filter":{"field":"t","oneOf":["ag","bg","cg"]}}],"mark":{"type":"line","color":"#a3a3a3","strokeWidth":1.2,"clip":false},"encoding":{"x":{"field":"x","type":"quantitative","scale":{"domain":[0,249],"nice":false,"zero":false},"axis":null},"y":{"field":"y","type":"quantitative","scale":{"domain":[-650,0],"nice":false,"zero":false},"axis":null},"detail":{"field":"t"}}},
{"data":{"name":"L"},"transform":[{"filter":{"field":"t","oneOf":["ad","bd","cd"]}}],"mark":{"type":"line","color":"#1f1f1f","strokeWidth":1,"clip":false},"encoding":{"x":{"field":"x","type":"quantitative","axis":null},"y":{"field":"y","type":"quantitative","axis":null},"detail":{"field":"t"}}},
{"data":{"name":"L"},"transform":[{"filter":{"field":"t","oneOf":["ab","bb","cb"]}}],"mark":{"type":"line","color":"#1a1a1a","strokeWidth":1.3,"clip":false},"encoding":{"x":{"field":"x","type":"quantitative","axis":null},"y":{"field":"y","type":"quantitative","axis":null},"detail":{"field":"t"}}},
{"data":{"name":"LT"},"transform":[{"filter":{"field":"k","equal":"l"}}],"mark":{"type":"text","fontSize":24,"fontWeight":"bold","align":"left"},"encoding":{"x":{"field":"x","type":"quantitative","axis":null},"y":{"field":"y","type":"quantitative","axis":null},"text":{"field":"s"}}},
{"data":{"name":"LT"},"transform":[{"filter":{"field":"k","equal":"n"}}],"mark":{"type":"text","fontSize":21,"align":"center"},"encoding":{"x":{"field":"x","type":"quantitative","axis":null},"y":{"field":"y","type":"quantitative","axis":null},"text":{"field":"s"}}},
{"data":{"name":"LT"},"transform":[{"filter":{"field":"k","equal":"d"}}],"mark":{"type":"text","fontSize":16,"align":"center"},"encoding":{"x":{"field":"x","type":"quantitative","axis":null},"y":{"field":"y","type":"quantitative","axis":null},"text":{"field":"s"}}}
]},
{"width":249,"height":650,
"layer":[
{"data":{"name":"R"},"transform":[{"filter":{"field":"t","oneOf":["dg","eg","fg"]}}],"mark":{"type":"line","color":"#a3a3a3","strokeWidth":1.2,"clip":false},"encoding":{"x":{"field":"x","type":"quantitative","scale":{"domain":[0,249],"nice":false,"zero":false},"axis":null},"y":{"field":"y","type":"quantitative","scale":{"domain":[-650,0],"nice":false,"zero":false},"axis":null},"detail":{"field":"t"}}},
{"data":{"name":"R"},"transform":[{"filter":{"field":"t","oneOf":["dd","ed","fd"]}}],"mark":{"type":"line","color":"#1f1f1f","strokeWidth":1,"clip":false},"encoding":{"x":{"field":"x","type":"quantitative","axis":null},"y":{"field":"y","type":"quantitative","axis":null},"detail":{"field":"t"}}},
{"data":{"name":"R"},"transform":[{"filter":{"field":"t","oneOf":["db","eb","fb"]}}],"mark":{"type":"line","color":"#1a1a1a","strokeWidth":1.3,"clip":false},"encoding":{"x":{"field":"x","type":"quantitative","axis":null},"y":{"field":"y","type":"quantitative","axis":null},"detail":{"field":"t"}}},
{"data":{"name":"RT"},"transform":[{"filter":{"field":"k","equal":"l"}}],"mark":{"type":"text","fontSize":24,"fontWeight":"bold","align":"left"},"encoding":{"x":{"field":"x","type":"quantitative","axis":null},"y":{"field":"y","type":"quantitative","axis":null},"text":{"field":"s"}}},
{"data":{"name":"RT"},"transform":[{"filter":{"field":"k","equal":"n"}}],"mark":{"type":"text","fontSize":21,"align":"center"},"encoding":{"x":{"field":"x","type":"quantitative","axis":null},"y":{"field":"y","type":"quantitative","axis":null},"text":{"field":"s"}}},
{"data":{"name":"RT"},"transform":[{"filter":{"field":"k","equal":"d"}}],"mark":{"type":"text","fontSize":16,"align":"center"},"encoding":{"x":{"field":"x","type":"quantitative","axis":null},"y":{"field":"y","type":"quantitative","axis":null},"text":{"field":"s"}}}
]}
]
}
